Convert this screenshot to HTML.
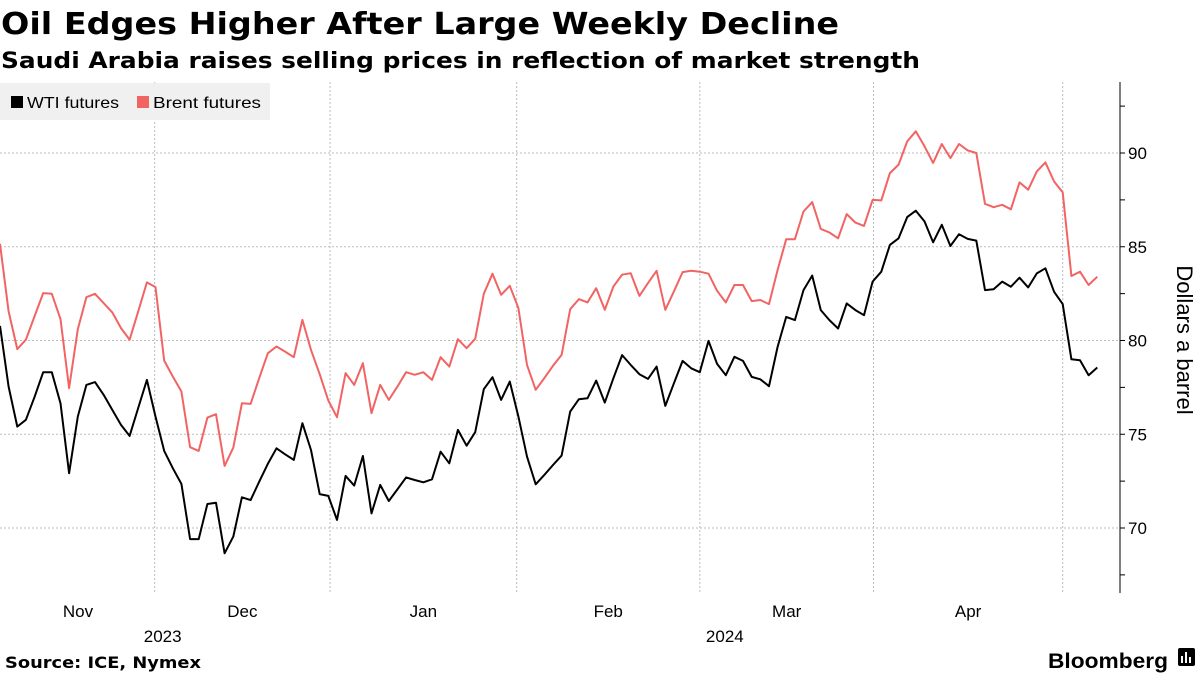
<!DOCTYPE html>
<html><head><meta charset="utf-8"><style>
html,body{margin:0;padding:0;background:#fff;width:1200px;height:675px;overflow:hidden}
svg{display:block;font-family:"DejaVu Sans","Liberation Sans",sans-serif}
</style></head><body>
<svg id="chart" width="1200" height="675" viewBox="0 0 1200 675" xmlns="http://www.w3.org/2000/svg">
<text x="1" y="34" font-size="30" font-weight="bold" textLength="838" lengthAdjust="spacingAndGlyphs">Oil Edges Higher After Large Weekly Decline</text>
<text x="1" y="68" font-size="22" font-weight="bold" textLength="919" lengthAdjust="spacingAndGlyphs">Saudi Arabia raises selling prices in reflection of market strength</text>
<g id="grid"></g>
<g id="series"></g>
<g>
<rect x="0" y="83" width="270" height="37" fill="#f0f0f0"/>
<rect x="11" y="96" width="12" height="12" fill="#000"/>
<text x="27" y="108" font-size="16" font-family="Liberation Sans, sans-serif" textLength="92" lengthAdjust="spacingAndGlyphs">WTI futures</text>
<rect x="137" y="96" width="12" height="12" fill="#f26363"/>
<text x="153" y="108" font-size="16" font-family="Liberation Sans, sans-serif" textLength="108" lengthAdjust="spacingAndGlyphs">Brent futures</text>
</g>
<text transform="translate(1177,340) rotate(90)" text-anchor="middle" font-size="22" font-family="Liberation Sans, sans-serif">Dollars a barrel</text>
<text x="5" y="668" font-size="16" font-weight="bold" textLength="196" lengthAdjust="spacingAndGlyphs">Source: ICE, Nymex</text>
<text x="1048" y="668" font-size="21" font-weight="bold" font-family="Liberation Sans, sans-serif" textLength="120" lengthAdjust="spacingAndGlyphs">Bloomberg</text>
<g><rect x="1178" y="648" width="17" height="18" rx="2" fill="#000"/><rect x="1181" y="656" width="2" height="7" fill="#fff"/><rect x="1185" y="652" width="2" height="11" fill="#fff"/><rect x="1189" y="657" width="2" height="6" fill="#fff"/></g>
</svg>
<script>
const wti = [80.78,77.54,75.41,75.77,77.0,78.31,78.31,76.65,72.92,75.94,77.63,77.78,77.1,76.3,75.5,74.91,76.4,77.9,75.94,74.11,73.19,72.35,69.41,69.41,71.28,71.35,68.65,69.54,71.64,71.49,72.47,73.42,74.25,73.93,73.63,75.59,74.16,71.81,71.71,70.43,
72.78,72.26,73.84,70.78,72.3,71.44,72.06,72.7,72.56,72.44,72.6,74.07,73.45,75.23,74.39,75.11,77.4,78.04,76.83,77.81,75.94,73.81,72.33,72.83,73.36,73.86,76.21,76.87,76.92,77.86,76.69,77.99,79.22,78.7,78.2,77.95,78.61,76.51,77.72,78.91,78.52,78.31,79.98,
78.75,78.15,79.13,78.91,78.06,77.93,77.56,79.66,81.26,81.09,82.69,83.46,81.62,81.09,80.64,81.98,81.62,81.35,83.14,83.67,85.1,85.45,86.58,86.92,86.35,85.24,86.17,85.04,85.67,85.42,85.33,82.69,82.73,83.14,82.87,83.35,82.83,83.58,83.85,82.6,81.94,79.0,78.95,78.15,78.56];
const brent = [85.16,81.55,79.54,80.04,81.3,82.53,82.49,81.14,77.46,80.6,82.31,82.49,81.99,81.5,80.66,80.04,81.55,83.1,82.85,78.93,78.08,77.28,74.31,74.11,75.89,76.07,73.31,74.29,76.65,76.62,77.99,79.32,79.68,79.41,79.11,81.1,79.5,78.2,76.8,75.91,
78.26,77.63,78.79,76.12,77.63,76.83,77.54,78.31,78.17,78.31,77.9,79.11,78.61,80.07,79.59,80.09,82.49,83.56,82.44,82.92,81.73,78.7,77.37,77.99,78.65,79.23,81.67,82.21,82.03,82.79,81.64,82.88,83.51,83.59,82.38,83.06,83.72,81.64,82.62,83.65,83.72,83.67,83.56,
82.65,82.03,82.96,82.96,82.1,82.16,81.94,83.76,85.4,85.4,86.88,87.38,85.95,85.76,85.45,86.74,86.29,86.11,87.5,87.47,88.93,89.38,90.62,91.16,90.36,89.47,90.48,89.73,90.48,90.14,90.0,87.29,87.11,87.24,87.0,88.43,88.04,89.02,89.5,88.48,87.9,83.44,83.67,82.96,83.4];
const yTicks = [70,75,80,85,90];
const months = ["Nov","Dec","Jan","Feb","Mar","Apr"];
const monthStartIdx = [-1.8,17.9,38.2,59.8,81.0,101.1,123.0];
const years = ["2023","2024"];
const yearMonthIdx = [1,4];

const NS="http://www.w3.org/2000/svg";
const X0=0,STEP=8.64,PL=0,PR=1120,PT=82,PB=593;
const xs=i=>X0+i*STEP;
const ys=v=>153+(90-v)*18.75;
function mk(t,a,p){const e=document.createElementNS(NS,t);for(const k in a)e.setAttribute(k,a[k]);p.appendChild(e);return e;}
const grid=document.getElementById('grid'),ser=document.getElementById('series');
yTicks.forEach(v=>{
  const l=mk('line',{x1:PL,x2:PR,y1:ys(v),y2:ys(v),stroke:'#bbb','stroke-dasharray':'2,2','stroke-width':1},grid);
  
  
  const t=mk('text',{x:1128,y:ys(v)+6,'font-size':17,'font-family':'Liberation Sans, sans-serif'},grid);
  t.textContent=v;
  
  
});
for(let v=67.5;v<=92.5;v+=2.5){
  const tk=mk('line',{x1:PR,x2:PR+5,y1:ys(v),y2:ys(v),stroke:'#000','stroke-width':1},grid);
  
  
}
const ax=mk('line',{x1:PR,x2:PR,y1:PT,y2:PB,stroke:'#000','stroke-width':1},grid);


monthStartIdx.forEach((m,k)=>{
  if(k>0){const l=mk('line',{x1:xs(m),x2:xs(m),y1:PT,y2:PB,stroke:'#bbb','stroke-dasharray':'2,2','stroke-width':1},grid);
  
  }
  if(k<months.length){
    const c=(Math.max(0,xs(m))+xs(monthStartIdx[k+1]))/2;
    const t=mk('text',{x:k==0?78:c,y:617,'text-anchor':'middle','font-size':17,'font-family':'Liberation Sans, sans-serif'},grid);
    t.textContent=months[k];
    
    
  }
});
years.forEach((y,k)=>{
  const m=yearMonthIdx[k];
  const t=mk('text',{x:xs(monthStartIdx[m])+(k==0?8:25),y:642,'text-anchor':'middle','font-size':17,'font-family':'Liberation Sans, sans-serif'},grid);
  t.textContent=y;
  
  
});
function line(data,color,name){
  const d=data.map((v,i)=>(i?'L':'M')+xs(i).toFixed(1)+','+ys(v).toFixed(1)).join('');
  const p=mk('path',{d:d,fill:'none',stroke:color,'stroke-width':2,'stroke-linejoin':'round'},ser);
  
  
}
line(brent,'#f26363','brent-line');
line(wti,'#000','wti-line');
</script>
</body></html>
